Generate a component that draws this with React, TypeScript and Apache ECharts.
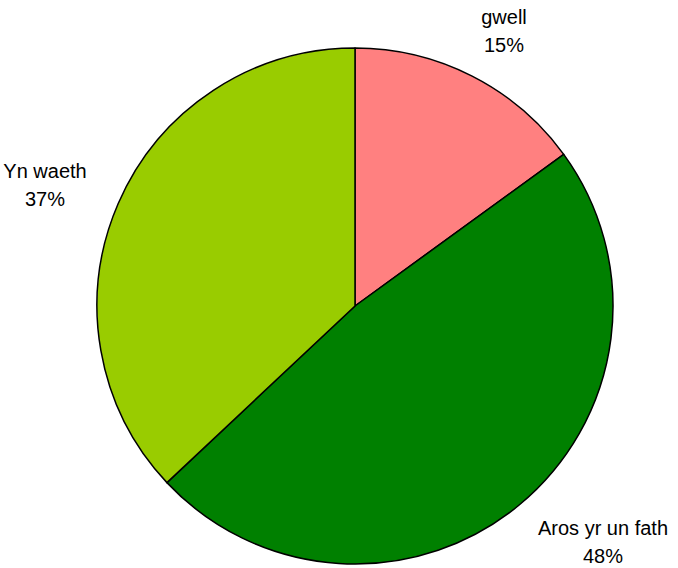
import React, { useEffect, useRef } from "react";
import * as echarts from "echarts";

const categories = ["gwell", "Aros yr un fath", "Yn waeth"];
const values = [15, 48, 37];
const colors = ["#FF8080", "#008000", "#99CC00"];
const labelPos = [
  [504, 31],
  [603, 542],
  [45, 185],
];

export default function App() {
  const ref = useRef<HTMLDivElement>(null);
  useEffect(() => {
    const chart = echarts.init(ref.current!, null, { renderer: "svg" });
    chart.setOption({
      animation: false,
      backgroundColor: "#ffffff",
      series: [
        {
          type: "pie",
          center: [355, 306],
          radius: 258,
          startAngle: 90,
          clockwise: true,
          data: categories.map((c, i) => ({
            name: c,
            value: values[i],
            itemStyle: { color: colors[i] },
          })),
          itemStyle: { borderColor: "#000", borderWidth: 1.5 },
          label: {
            show: true,
            position: "outside",
            formatter: "{b}\n{d}%",
            fontFamily: "Liberation Sans, Arial, sans-serif",
            fontSize: 20,
            lineHeight: 28,
            color: "#000",
            align: "center",
            overflow: "none",
          },
          labelLine: { show: false },
          labelLayout: (p: any) => ({
            x: labelPos[p.dataIndex][0],
            y: labelPos[p.dataIndex][1],
            align: "center",
            verticalAlign: "middle",
          }),
          emphasis: { disabled: true },
        },
      ],
    });
    return () => chart.dispose();
  }, []);
  return (
    <div
      ref={ref}
      style={{ position: "fixed", left: 0, top: 0, width: 678, height: 568 }}
    />
  );
}
